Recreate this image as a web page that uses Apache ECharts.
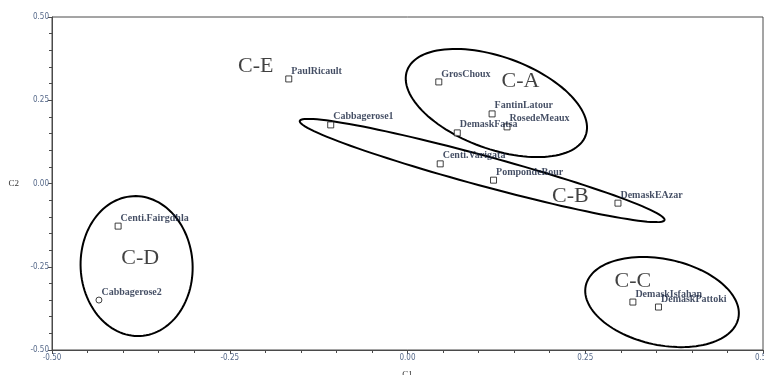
<!DOCTYPE html>
<html>
<head>
<meta charset="utf-8">
<script src="https://cdn.jsdelivr.net/npm/echarts@6/dist/echarts.min.js"></script>
<style>
  html, body { margin: 0; padding: 0; background: #fff; }
  #chart { width: 764px; height: 375px; }
</style>
</head>
<body>
<div id="chart"></div>
<script>
// Rose cultivars on the first two components (C1, C2)
const cultivars = [
  'PaulRicault', 'Cabbagerose1', 'GrosChoux', 'FantinLatour', 'RosedeMeaux',
  'DemaskFatsa', 'Centi.Varigata', 'PompondeBour', 'DemaskEAzar',
  'DemaskIsfahan', 'DemaskPattoki', 'Centi.Fairgdhla'
];
const c1 = [-0.167, -0.108, 0.044, 0.119, 0.140, 0.070, 0.046, 0.121, 0.296, 0.317, 0.353, -0.407];
const c2 = [0.314, 0.176, 0.305, 0.209, 0.170, 0.152, 0.059, 0.010, -0.059, -0.356, -0.371, -0.128];

// Cultivar drawn with a round marker
const roundName = ['Cabbagerose2'];
const roundC1 = [-0.434];
const roundC2 = [-0.350];

// Cluster names and where they are written
const clusterNames = ['C-E', 'C-A', 'C-B', 'C-C', 'C-D'];
const clusterC1 = [-0.2135, 0.159, 0.229, 0.317, -0.376];
const clusterC2 = [0.353, 0.308, -0.0375, -0.293, -0.224];

// Cluster outlines: centres on the axes
const hullNames = ['C-A', 'C-B', 'C-C', 'C-D'];
const hullC1 = [0.125, 0.105, 0.358, -0.381];
const hullC2 = [0.2417, 0.039, -0.356, -0.248];
// outline geometry on screen: semi-axes (px) and tilt (deg, clockwise)
const hullShape = [
  { a: 95, b: 46, tilt: 20 },
  { a: 189, b: 15, tilt: 15.2 },
  { a: 78, b: 43, tilt: 12 },
  { a: 56, b: 70, tilt: -3 }
];

const chart = echarts.init(document.getElementById('chart'), null, { renderer: 'canvas' });

const axisColor = '#4a4a4a';
const tickLabel = { fontSize: 8, color: '#56698a', fontFamily: 'DejaVu Sans Condensed, DejaVu Sans, sans-serif' };
const pointLabel = {
  show: true,
  position: 'right',
  distance: -1,
  offset: [0, -8],
  fontFamily: 'Liberation Serif, serif',
  fontWeight: 'bold',
  fontSize: 10,
  color: '#14203c',
  formatter: p => p.name
};

chart.setOption({
  animation: false,
  grid: {
    left: 52, right: 1, top: 17, bottom: 25,
    outerBoundsMode: 'none',
    containLabel: false,
    show: true, borderColor: axisColor, borderWidth: 1, backgroundColor: 'transparent'
  },
  xAxis: {
    type: 'value', min: -0.5, max: 0.5, interval: 0.25,
    name: 'C1', nameLocation: 'middle', nameGap: 20,
    nameTextStyle: { fontFamily: 'Liberation Serif, serif', fontSize: 9, color: '#333' },
    axisLine: { show: true, onZero: false, lineStyle: { color: axisColor, width: 1 } },
    axisTick: { show: true, length: 4, lineStyle: { color: axisColor } },
    minorTick: { show: true, splitNumber: 5, length: 3, lineStyle: { color: axisColor } },
    splitLine: { show: false },
    axisLabel: Object.assign({ margin: 4, formatter: v => v.toFixed(2) }, tickLabel)
  },
  yAxis: {
    type: 'value', min: -0.5, max: 0.5, interval: 0.25,
    name: 'C2', nameLocation: 'middle', nameGap: 33, nameRotate: 0,
    nameTextStyle: { fontFamily: 'Liberation Serif, serif', fontSize: 9, color: '#333' },
    axisLine: { show: true, onZero: false, lineStyle: { color: axisColor, width: 1 } },
    axisTick: { show: true, length: 4, lineStyle: { color: axisColor } },
    minorTick: { show: true, splitNumber: 5, length: 3, lineStyle: { color: axisColor } },
    splitLine: { show: false },
    axisLabel: Object.assign({ margin: 3, formatter: v => v.toFixed(2) }, tickLabel)
  },
  series: [
    {
      type: 'custom',
      name: 'clusters',
      silent: true,
      clip: false,
      data: hullNames.map((n, i) => ({ name: n, value: [hullC1[i], hullC2[i]] })),
      renderItem: function (params, api) {
        const c = api.coord([api.value(0), api.value(1)]);
        const s = hullShape[params.dataIndex];
        const t = s.tilt * Math.PI / 180;
        const pts = [];
        for (let k = 0; k < 120; k++) {
          const f = k / 120 * Math.PI * 2;
          const ux = s.a * Math.cos(f), uy = s.b * Math.sin(f);
          pts.push([c[0] + ux * Math.cos(t) - uy * Math.sin(t),
                    c[1] + ux * Math.sin(t) + uy * Math.cos(t)]);
        }
        return {
          type: 'polygon',
          shape: { points: pts },
          style: { fill: 'none', stroke: '#000', lineWidth: 2 }
        };
      },
      z: 1
    },
    {
      type: 'scatter',
      name: 'cultivars',
      symbol: 'rect',
      symbolSize: 6,
      itemStyle: { color: '#fff', borderColor: '#111', borderWidth: 1 },
      label: pointLabel,
      data: cultivars.map((n, i) => ({ name: n, value: [c1[i], c2[i]] })),
      z: 3
    },
    {
      type: 'scatter',
      name: 'round',
      symbol: 'circle',
      symbolSize: 6,
      itemStyle: { color: '#fff', borderColor: '#111', borderWidth: 1 },
      label: pointLabel,
      data: roundName.map((n, i) => ({ name: n, value: [roundC1[i], roundC2[i]] })),
      z: 3
    },
    {
      type: 'scatter',
      name: 'clusterNames',
      symbolSize: 0,
      silent: true,
      label: {
        show: true,
        position: 'inside',
        fontFamily: 'Liberation Serif, serif',
        fontSize: 22,
        color: '#111',
        formatter: p => p.name
      },
      data: clusterNames.map((n, i) => ({ name: n, value: [clusterC1[i], clusterC2[i]] })),
      z: 4
    }
  ]
});
</script>
</body>
</html>
